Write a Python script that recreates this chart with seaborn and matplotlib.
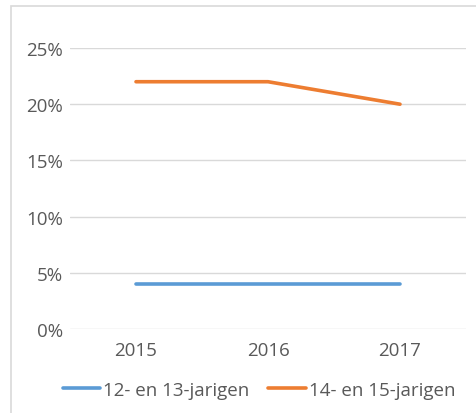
import pandas as pd
import numpy as np
import matplotlib
matplotlib.use("Agg")
import matplotlib.pyplot as plt
import seaborn as sns
from matplotlib.patches import Rectangle

# --- data ---
jaren = ["2015", "2016", "2017"]
jong = [0.04, 0.04, 0.04]
oud = [0.22, 0.22, 0.20]
reeksen = ["12- en 13-jarigen", "14- en 15-jarigen"]
kleuren = ["#5B9BD5", "#ED7D31"]

df = pd.DataFrame({
    "jaar": jaren * 2,
    "aandeel": jong + oud,
    "groep": [reeksen[0]] * 3 + [reeksen[1]] * 3,
})

sns.set_style("white")
plt.rcParams['font.family'] = ['Open Sans', 'DejaVu Sans']
grijs = "#595959"
fs = 13.5

fig = plt.figure(figsize=(4.77, 4.14), dpi=100)
ax = fig.add_axes([70 / 477, 1 - 330 / 414, 396 / 477, 281 / 414])

sns.lineplot(data=df, x="jaar", y="aandeel", hue="groep", palette=kleuren,
             linewidth=2.6, ax=ax, legend=False, sort=False)
for ln in ax.lines:
    ln.set_solid_capstyle("round")

ax.set_xlim(-0.5, 2.5)
ax.set_ylim(0, 0.25)
ax.set_yticks(np.arange(0, 0.251, 0.05))
ax.set_yticklabels([f"{int(round(v * 100))}%" for v in np.arange(0, 0.251, 0.05)])
ax.yaxis.grid(True, color="#D9D9D9", linewidth=1)
ax.set_axisbelow(True)
for s in ax.spines.values():
    s.set_visible(False)
ax.tick_params(axis="both", length=0, labelsize=fs, colors=grijs)
ax.tick_params(axis="x", pad=9)
ax.tick_params(axis="y", pad=5)
ax.set_xlabel("")
ax.set_ylabel("")

# legenda
handles = [plt.Line2D([], [], color=c, linewidth=2.6, solid_capstyle="round") for c in kleuren]
fig.legend(handles, reeksen, loc="center", bbox_to_anchor=(0.543, 1 - 391 / 414), ncol=2,
           frameon=False, fontsize=fs, labelcolor=grijs, handlelength=2.0,
           handletextpad=0.15, columnspacing=1.0)

# rand van het kader
fig.patches.append(Rectangle((11 / 477, -0.1), 1.0, 0.1 + 1 - 7 / 414, transform=fig.transFigure,
                             fill=False, edgecolor="#D9D9D9", linewidth=1.2))

fig.savefig("out.png", dpi=100)
